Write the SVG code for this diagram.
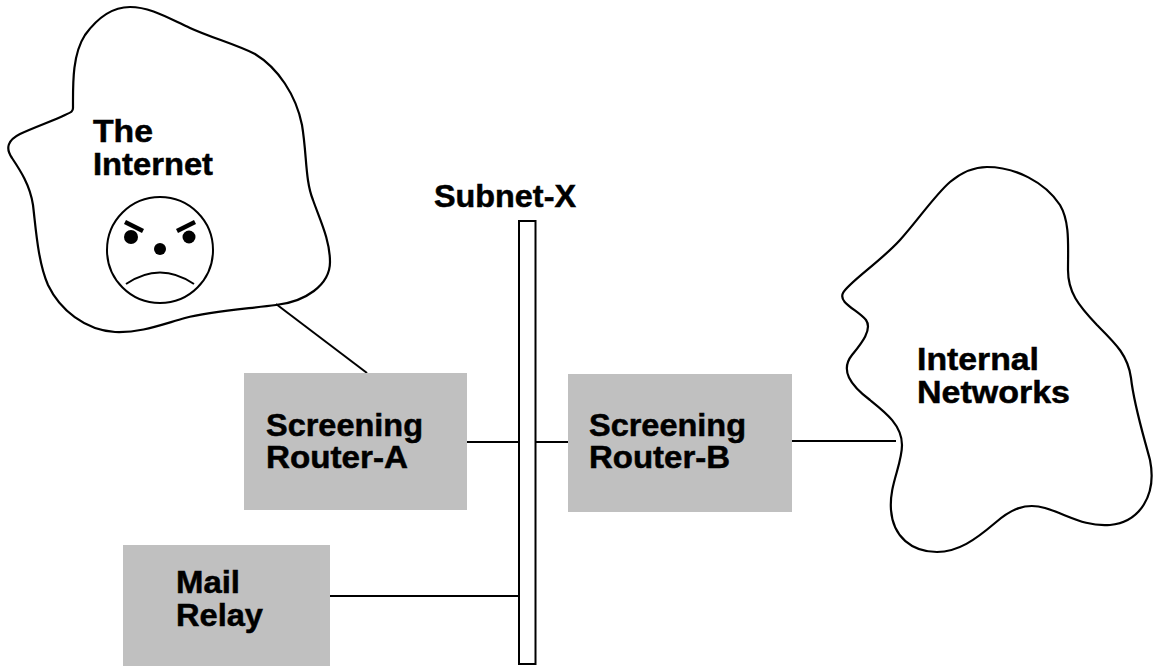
<svg xmlns="http://www.w3.org/2000/svg" width="1157" height="666" viewBox="0 0 1157 666">
<style>
.box{fill:#c0c0c0;stroke:none}
.cloud{fill:#fff;stroke:#000;stroke-width:2.2}
.lbl{font-family:"Liberation Sans",Arial,sans-serif;font-weight:bold;font-size:31px;fill:#000;stroke:#000;stroke-width:0.5}
.conn line{stroke:#000;stroke-width:2}
</style>
<rect width="1157" height="666" fill="#fff"/>
<g id="internet">
<path class="cloud" d="M73,108 C73,85 72,55 85,35 C98,17 112,7 130,7 C150,7 168,18 190,28 C212,38 235,44 255,54 C278,68 296,95 302,125 C307,155 305,180 313,200 C320,220 330,240 330,262 C330,285 305,302 276,305 C245,309 210,311 185,318 C160,325 140,333 115,332 C85,330 60,310 48,285 C38,262 36,230 33,205 C30,185 20,170 12,158 C5,148 8,140 20,134 C35,127 55,120 65,115 C72,112 73,111 73,108 Z"/>
<text class="lbl" x="93" y="142" textLength="60" lengthAdjust="spacingAndGlyphs">The</text>
<text class="lbl" x="93" y="175" textLength="120" lengthAdjust="spacingAndGlyphs">Internet</text>
<g id="face">
<circle cx="160" cy="250" r="53" fill="#fff" stroke="#000" stroke-width="2"/>
<line x1="125" y1="222" x2="143" y2="231" stroke="#000" stroke-width="4.5"/>
<line x1="177" y1="231" x2="195" y2="222" stroke="#000" stroke-width="4.5"/>
<circle cx="131" cy="237" r="7" fill="#000"/>
<circle cx="189" cy="237" r="6.5" fill="#000"/>
<circle cx="160" cy="249" r="6" fill="#000"/>
<path d="M126,284 Q160,261 194,284" fill="none" stroke="#000" stroke-width="2"/>
</g>
</g>
<g id="internal-networks">
<path class="cloud" d="M987,167 C1015,167 1045,182 1060,205 C1070,222 1068,245 1068,270 C1068,292 1078,305 1097,325 C1115,343 1128,355 1131,378 C1134,405 1142,430 1150,460 C1157,495 1140,522 1110,525 C1085,527 1068,515 1045,508 C1025,502 1010,510 995,523 C975,540 958,552 937,552 C912,552 893,537 891,510 C889,485 902,465 902,445 C902,425 885,412 870,400 C850,385 840,370 852,355 C860,345 873,330 866,320 C858,310 838,303 843,293 C848,283 880,262 900,240 C918,220 935,195 950,182 C962,172 975,167 987,167 Z"/>
<text class="lbl" x="917" y="370" textLength="122" lengthAdjust="spacingAndGlyphs">Internal</text>
<text class="lbl" x="917" y="403" textLength="153" lengthAdjust="spacingAndGlyphs">Networks</text>
</g>
<g class="conn" id="connectors">
<line x1="276" y1="304" x2="367" y2="373"/>
<line x1="467" y1="442" x2="519" y2="442"/>
<line x1="536" y1="442" x2="568" y2="442"/>
<line x1="792" y1="441" x2="896" y2="441"/>
<line x1="330" y1="596" x2="519" y2="596"/>
</g>
<g id="subnet-x">
<rect x="519" y="221" width="16.5" height="443" fill="#fff" stroke="#000" stroke-width="2"/>
<text class="lbl" x="434" y="207" textLength="142" lengthAdjust="spacingAndGlyphs">Subnet-X</text>
</g>
<g id="router-a">
<rect class="box" x="244" y="373" width="223" height="137"/>
<text class="lbl" x="266" y="436" textLength="157" lengthAdjust="spacingAndGlyphs">Screening</text>
<text class="lbl" x="266" y="468" textLength="142" lengthAdjust="spacingAndGlyphs">Router-A</text>
</g>
<g id="router-b">
<rect class="box" x="568" y="374" width="224" height="138"/>
<text class="lbl" x="589" y="436" textLength="157" lengthAdjust="spacingAndGlyphs">Screening</text>
<text class="lbl" x="589" y="468" textLength="141" lengthAdjust="spacingAndGlyphs">Router-B</text>
</g>
<g id="mail-relay">
<rect class="box" x="123" y="545" width="207" height="121"/>
<text class="lbl" x="176" y="593" textLength="64" lengthAdjust="spacingAndGlyphs">Mail</text>
<text class="lbl" x="176" y="626" textLength="87" lengthAdjust="spacingAndGlyphs">Relay</text>
</g>
</svg>
